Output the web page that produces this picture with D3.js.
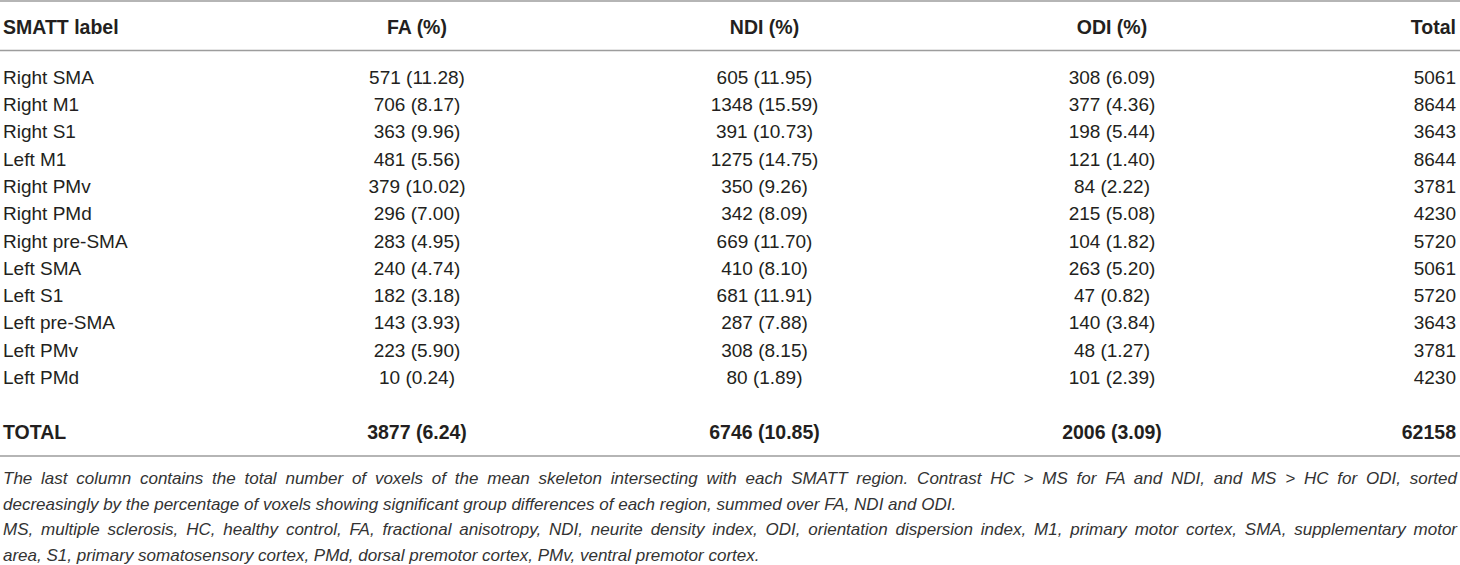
<!DOCTYPE html>
<html>
<head>
<meta charset="utf-8">
<script src="https://cdn.jsdelivr.net/npm/d3@7"></script>
<style>
  html, body { margin: 0; padding: 0; background: #fff; }
  svg { display: block; }
  .cell { font-family: "Liberation Sans", Arial, Helvetica, sans-serif; font-size: 19px; fill: #231f20; }
  .head { font-weight: bold; font-size: 19.5px; }
  .note { font-family: "Liberation Sans", Arial, Helvetica, sans-serif; font-style: italic; font-size: 17px; fill: #333; }
</style>
</head>
<body>
<div id="table"></div>
<script>
// table data
var regions = ["Right SMA", "Right M1", "Right S1", "Left M1", "Right PMv", "Right PMd",
               "Right pre-SMA", "Left SMA", "Left S1", "Left pre-SMA", "Left PMv", "Left PMd"];
var faCount  = [571, 706, 363, 481, 379, 296, 283, 240, 182, 143, 223, 10];
var faPct    = ["11.28", "8.17", "9.96", "5.56", "10.02", "7.00", "4.95", "4.74", "3.18", "3.93", "5.90", "0.24"];
var ndiCount = [605, 1348, 391, 1275, 350, 342, 669, 410, 681, 287, 308, 80];
var ndiPct   = ["11.95", "15.59", "10.73", "14.75", "9.26", "8.09", "11.70", "8.10", "11.91", "7.88", "8.15", "1.89"];
var odiCount = [308, 377, 198, 121, 84, 215, 104, 263, 47, 140, 48, 101];
var odiPct   = ["6.09", "4.36", "5.44", "1.40", "2.22", "5.08", "1.82", "5.20", "0.82", "3.84", "1.27", "2.39"];
var voxels   = [5061, 8644, 3643, 8644, 3781, 4230, 5720, 5061, 5720, 3643, 3781, 4230];

var headers  = ["SMATT label", "FA (%)", "NDI (%)", "ODI (%)", "Total"];
var totalRow = ["TOTAL", "3877 (6.24)", "6746 (10.85)", "2006 (3.09)", "62158"];

var notes = [
  "The last column contains the total number of voxels of the mean skeleton intersecting with each SMATT region. Contrast HC > MS for FA and NDI, and MS > HC for ODI, sorted",
  "decreasingly by the percentage of voxels showing significant group differences of each region, summed over FA, NDI and ODI.",
  "MS, multiple sclerosis, HC, healthy control, FA, fractional anisotropy, NDI, neurite density index, ODI, orientation dispersion index, M1, primary motor cortex, SMA, supplementary motor",
  "area, S1, primary somatosensory cortex, PMd, dorsal premotor cortex, PMv, ventral premotor cortex."
];
var notesJustified = [true, false, true, false];

var width = 1460, height = 565;

var svg = d3.select("#table").append("svg")
    .attr("width", width)
    .attr("height", height);

// build rows
var rows = regions.map(function (r, i) {
    return [r,
            faCount[i] + " (" + faPct[i] + ")",
            ndiCount[i] + " (" + ndiPct[i] + ")",
            odiCount[i] + " (" + odiPct[i] + ")",
            String(voxels[i])];
});

// slot 0..11 data rows, slot 12 empty, slot 13 TOTAL
var yRow = d3.scaleLinear().domain([0, 13]).range([77, 432]);
var xMid = d3.scalePoint().domain([1, 2, 3]).range([417, 1112]);

function colX(j) {
    if (j === 0) return 3;
    if (j === 4) return width - 4;
    return xMid(j);
}
function colAnchor(j) {
    return j === 0 ? "start" : (j === 4 ? "end" : "middle");
}

// rules
var rules = [1, 50.5, 456];
svg.selectAll("line.rule")
    .data(rules)
    .enter().append("line")
    .attr("class", "rule")
    .attr("x1", 0).attr("x2", width)
    .attr("y1", function (d) { return d; })
    .attr("y2", function (d) { return d; })
    .style("stroke", "#9d9d9d")
    .style("stroke-width", 1.6);

// header
svg.append("g").selectAll("text")
    .data(headers)
    .enter().append("text")
    .attr("class", "cell head")
    .attr("x", function (d, j) { return colX(j); })
    .attr("y", 27)
    .attr("dy", "0.35em")
    .attr("text-anchor", function (d, j) { return colAnchor(j); })
    .text(function (d) { return d; });

// body
var body = svg.append("g");
var rowG = body.selectAll("g.row")
    .data(rows)
    .enter().append("g")
    .attr("class", "row")
    .attr("transform", function (d, i) { return "translate(0," + yRow(i) + ")"; });

rowG.selectAll("text")
    .data(function (d) { return d; })
    .enter().append("text")
    .attr("class", "cell")
    .attr("x", function (d, j) { return colX(j); })
    .attr("dy", "0.35em")
    .attr("text-anchor", function (d, j) { return colAnchor(j); })
    .text(function (d) { return d; });

// total row
body.append("g")
    .attr("transform", "translate(0," + yRow(13) + ")")
    .selectAll("text")
    .data(totalRow)
    .enter().append("text")
    .attr("class", "cell head")
    .attr("x", function (d, j) { return colX(j); })
    .attr("dy", "0.35em")
    .attr("text-anchor", function (d, j) { return colAnchor(j); })
    .text(function (d) { return d; });

// footnote, justified lines stretch word spacing
var yNote = d3.scaleLinear().domain([0, 3]).range([478, 555]);
var noteW = width - 6;
var noteText = svg.append("g").selectAll("text")
    .data(notes)
    .enter().append("text")
    .attr("class", "note")
    .attr("x", 3)
    .attr("y", function (d, i) { return yNote(i); })
    .attr("dy", "0.35em")
    .text(function (d) { return d; });

noteText.each(function (d, i) {
    if (!notesJustified[i]) return;
    var natural = this.getComputedTextLength();
    var spaces = d.split(" ").length - 1;
    var ws = (noteW - natural) / spaces;
    d3.select(this).style("word-spacing", ws + "px");
});
</script>
</body>
</html>
